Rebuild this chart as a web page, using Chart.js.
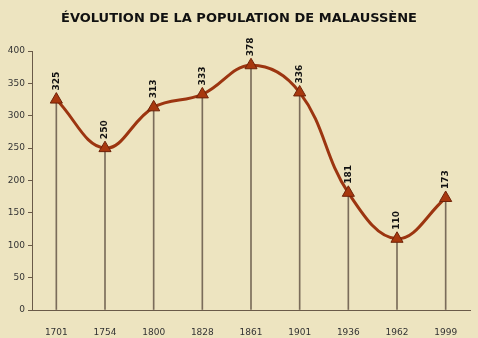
<!DOCTYPE html>
<html>
<head>
<meta charset="utf-8">
<script src="https://cdn.jsdelivr.net/npm/chart.js@4/dist/chart.umd.min.js"></script>
<style>
  html, body { margin: 0; padding: 0; background: #ede4c0; }
  canvas { display: block; }
</style>
</head>
<body>
<canvas id="chart" width="478" height="338"></canvas>
<script>
// années du recensement
const years = ['1701', '1754', '1800', '1828', '1861', '1901', '1936', '1962', '1999']
// population
const population = [325, 250, 313, 333, 378, 336, 181, 110, 173]
// graduations de l'axe Y
const yTicks = [0, 50, 100, 150, 200, 250, 300, 350, 400]

const titleText = 'ÉVOLUTION DE LA POPULATION DE MALAUSSÈNE'

// titre dessiné à la main
const titlePlugin = {
  id: 'titleDraw',
  afterDraw(chart) {
    const ctx = chart.ctx
    ctx.save()
    ctx.font = 'bold 13px "DejaVu Sans"'
    ctx.fillStyle = '#111'
    ctx.textAlign = 'center'
    ctx.textBaseline = 'middle'
    ctx.fillText(titleText, 239, 19)
    ctx.restore()
  },
}

// étiquettes verticales au-dessus des points
const labelPlugin = {
  id: 'valueLabels',
  afterDatasetsDraw(chart) {
    const ctx = chart.ctx
    const meta = chart.getDatasetMeta(0)
    ctx.save()
    ctx.font = 'bold 9px "DejaVu Sans"'
    ctx.fillStyle = '#111'
    ctx.textAlign = 'left'
    ctx.textBaseline = 'middle'
    meta.data.forEach((pt, i) => {
      ctx.save()
      ctx.translate(pt.x, pt.y - 9)
      ctx.rotate(-Math.PI / 2)
      ctx.fillText(String(population[i]), 0, 0)
      ctx.restore()
    })
    ctx.restore()
  },
}

const ctx = document.getElementById('chart').getContext('2d')
const chart = new Chart(ctx, {
  type: 'bar',
  data: {
    labels: years,
    datasets: [
      {
        type: 'line',
        data: population,
        borderColor: '#9c3510',
        borderWidth: 3,
        tension: 0.4,
        pointStyle: 'triangle',
        pointRadius: 7,
        pointBackgroundColor: '#a8380e',
        pointBorderColor: '#6e2208',
        pointBorderWidth: 1,
        order: 0,
      },
      {
        type: 'bar',
        data: population,
        backgroundColor: '#7a6c5a',
        barThickness: 1,
        order: 1,
      },
    ],
  },
  options: {
    responsive: false,
    animation: false,
    layout: { padding: { top: 51, right: 6, left: 0, bottom: 0 } },
    plugins: {
      legend: { display: false },
      tooltip: { enabled: false },
    },
    scales: {
      x: {
        grid: { display: false },
        border: { display: true, color: '#6a5a48', width: 1 },
        ticks: { color: '#333', font: { family: 'DejaVu Sans', size: 9 }, padding: 9, maxRotation: 0 },
        afterFit(scale) { scale.height = 28 },
      },
      y: {
        min: 0,
        max: 400,
        afterBuildTicks(scale) { scale.ticks = yTicks.map((v) => ({ value: v })) },
        grid: { display: true, drawOnChartArea: false, tickLength: 4, color: '#6a5a48' },
        border: { display: true, color: '#6a5a48', width: 1 },
        ticks: { color: '#333', font: { family: 'DejaVu Sans', size: 9 }, padding: 3 },
        afterFit(scale) { scale.width = 32 },
      },
    },
  },
  plugins: [titlePlugin, labelPlugin],
})
</script>
</body>
</html>
